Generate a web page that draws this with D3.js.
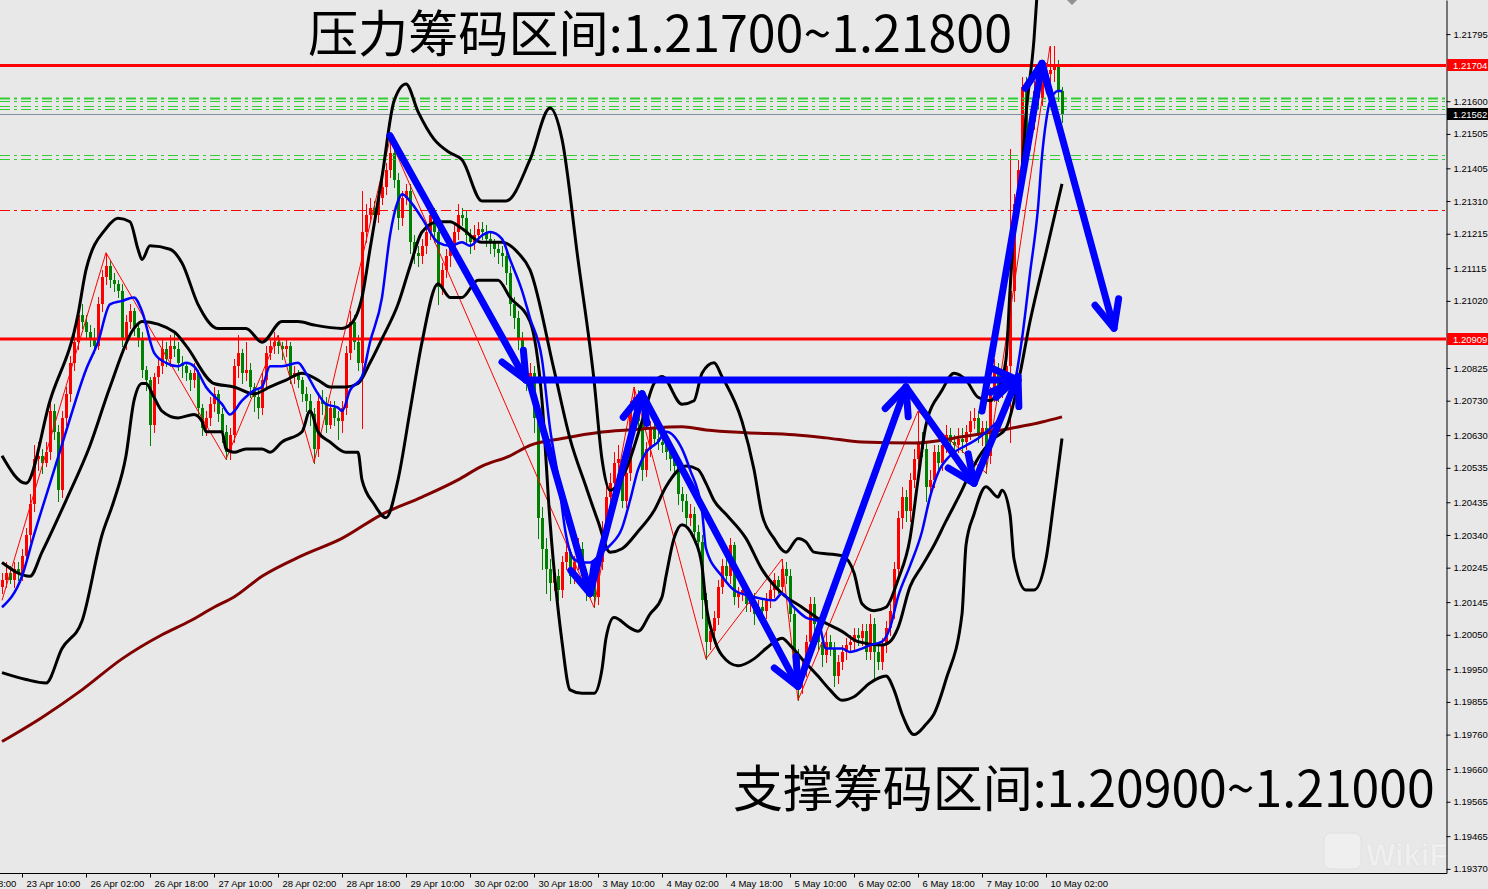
<!DOCTYPE html>
<html>
<head>
<meta charset="utf-8">
<script src="https://cdn.jsdelivr.net/npm/d3@7"></script>
<style>
body { margin: 0; background: #e8e8e8; }
svg { display: block; }
</style>
</head>
<body>
<svg id="chart" width="1488" height="889"></svg>
<script>
// EURUSD H1 candles, open of each bar = previous close
var firstOpen = 1.2019;
var closes = [
1.2021,1.2023,1.2021,1.2024,1.2023,1.2028,1.2034,1.2043,1.2056,1.2057,1.2055,1.2058,1.2070,1.2064,1.2047,1.2068,
1.2075,1.2084,1.2090,1.2098,1.2096,1.2093,1.2091,1.2089,1.2101,1.2109,1.2112,1.2108,1.2107,1.2105,1.2091,1.2096,
1.2099,1.2094,1.2091,1.2082,1.2079,1.2066,1.2080,1.2083,1.2088,1.2085,1.2089,1.2088,1.2084,1.2083,1.2081,1.2079,
1.2081,1.2071,1.2065,1.2068,1.2072,1.2075,1.2069,1.2064,1.2058,1.2063,1.2083,1.2087,1.2081,1.2082,1.2077,1.2074,
1.2071,1.2079,1.2087,1.2089,1.2090,1.2089,1.2088,1.2089,1.2080,1.2081,1.2079,1.2075,1.2073,1.2069,1.2059,1.2073,
1.2072,1.2066,1.2071,1.2068,1.2067,1.2071,1.2087,1.2096,1.2090,1.2084,1.2122,1.2127,1.2129,1.2127,1.2132,1.2135,
1.2140,1.2145,1.2137,1.2126,1.2132,1.2134,1.2119,1.2116,1.2115,1.2118,1.2122,1.2127,1.2122,1.2106,1.2111,1.2115,
1.2117,1.2122,1.2127,1.2126,1.2121,1.2119,1.2121,1.2123,1.2122,1.2120,1.2119,1.2117,1.2116,1.2115,1.2110,1.2101,
1.2097,1.2091,1.2084,1.2079,1.2081,1.2068,1.2039,1.2030,1.2024,1.2020,1.2022,1.2018,1.2026,1.2029,1.2022,1.2026,
1.2030,1.2022,1.2018,1.2021,1.2016,1.2026,1.2035,1.2045,1.2049,1.2055,1.2056,1.2044,1.2052,1.2071,1.2074,1.2067,
1.2053,1.2059,1.2065,1.2062,1.2061,1.2060,1.2058,1.2056,1.2054,1.2046,1.2044,1.2039,1.2040,1.2035,1.2032,1.2015,
1.2003,1.2006,1.2010,1.2019,1.2025,1.2022,1.2031,1.2016,1.2017,1.2018,1.2014,1.2015,1.2011,1.2013,1.2012,1.2015,
1.2018,1.2021,1.2019,1.2024,1.2022,1.2011,1.1999,1.1992,1.1995,1.2003,1.2014,1.2008,1.2003,1.1999,1.2003,1.2001,
1.1993,1.1997,1.2000,1.2002,1.2003,1.2005,1.2004,1.2006,1.2000,1.2008,1.2000,1.1997,1.2002,1.2007,1.2012,1.2024,
1.2039,1.2045,1.2041,1.2050,1.2056,1.2061,1.2059,1.2048,1.2050,1.2058,1.2055,1.2060,1.2063,1.2061,1.2060,1.2062,
1.2061,1.2064,1.2067,1.2068,1.2063,1.2065,1.2057,1.2075,1.2082,1.2076,1.2079,1.2083,1.2105,1.2130,1.2140,1.2164,
1.2148,1.2154,1.2163,1.2161,1.2167,1.2168,1.2169,1.2170,1.2163,1.21562
];
var highs = [
1.2023,1.2026,1.2025,1.2026,1.2026,1.2030,1.2036,1.2046,1.2060,1.2061,1.2059,1.2061,1.2073,1.2072,1.2066,1.2070,
1.2077,1.2086,1.2093,1.2100,1.2101,1.2098,1.2095,1.2094,1.2103,1.2111,1.2116,1.2114,1.2110,1.2108,1.2107,1.2098,
1.2101,1.2100,1.2096,1.2093,1.2083,1.2080,1.2081,1.2085,1.2091,1.2090,1.2092,1.2093,1.2090,1.2086,1.2084,1.2082,
1.2084,1.2082,1.2072,1.2070,1.2074,1.2077,1.2076,1.2071,1.2066,1.2065,1.2085,1.2092,1.2088,1.2090,1.2084,1.2078,
1.2076,1.2081,1.2089,1.2091,1.2093,1.2092,1.2090,1.2091,1.2090,1.2083,1.2082,1.2080,1.2077,1.2075,1.2071,1.2075,
1.2076,1.2074,1.2073,1.2073,1.2070,1.2073,1.2089,1.2099,1.2098,1.2092,1.2134,1.2130,1.2132,1.2131,1.2134,1.2138,
1.2142,1.2149,1.2147,1.2139,1.2134,1.2136,1.2136,1.2121,1.2118,1.2120,1.2124,1.2130,1.2129,1.2124,1.2113,1.2117,
1.2120,1.2124,1.2130,1.2129,1.2128,1.2123,1.2124,1.2125,1.2125,1.2124,1.2122,1.2120,1.2119,1.2118,1.2117,1.2112,
1.2103,1.2099,1.2093,1.2086,1.2084,1.2083,1.2070,1.2042,1.2033,1.2027,1.2024,1.2024,1.2028,1.2032,1.2030,1.2028,
1.2033,1.2032,1.2024,1.2023,1.2023,1.2028,1.2038,1.2048,1.2052,1.2058,1.2060,1.2057,1.2055,1.2073,1.2077,1.2076,
1.2069,1.2061,1.2067,1.2067,1.2064,1.2063,1.2062,1.2060,1.2058,1.2056,1.2048,1.2046,1.2043,1.2042,1.2037,1.2034,
1.2017,1.2008,1.2012,1.2021,1.2027,1.2027,1.2033,1.2032,1.2019,1.2021,1.2020,1.2017,1.2017,1.2015,1.2015,1.2017,
1.2020,1.2023,1.2022,1.2027,1.2026,1.2024,1.2013,1.2001,1.1997,1.2005,1.2016,1.2016,1.2010,1.2005,1.2006,1.2005,
1.2003,1.1999,1.2002,1.2004,1.2005,1.2007,1.2007,1.2008,1.2008,1.2011,1.2010,1.2002,1.2004,1.2009,1.2014,1.2026,
1.2041,1.2048,1.2047,1.2052,1.2059,1.2070,1.2064,1.2061,1.2053,1.2060,1.2060,1.2062,1.2066,1.2065,1.2063,1.2065,
1.2065,1.2066,1.2070,1.2071,1.2070,1.2067,1.2067,1.2077,1.2085,1.2084,1.2081,1.2086,1.2146,1.2133,1.2143,1.2167,
1.2167,1.2157,1.2166,1.2165,1.2170,1.2171,1.2176,1.2176,1.2172,1.2164
];
var lows = [
1.2017,1.2019,1.2020,1.2019,1.2021,1.2021,1.2026,1.2032,1.2041,1.2053,1.2052,1.2054,1.2056,1.2062,1.2044,1.2045,
1.2066,1.2073,1.2082,1.2088,1.2094,1.2091,1.2089,1.2087,1.2088,1.2099,1.2107,1.2106,1.2105,1.2103,1.2089,1.2088,
1.2094,1.2092,1.2089,1.2080,1.2076,1.2060,1.2064,1.2078,1.2081,1.2083,1.2083,1.2086,1.2082,1.2080,1.2079,1.2076,
1.2077,1.2069,1.2063,1.2063,1.2066,1.2070,1.2067,1.2061,1.2056,1.2056,1.2061,1.2080,1.2078,1.2079,1.2074,1.2070,
1.2068,1.2069,1.2077,1.2085,1.2087,1.2087,1.2085,1.2086,1.2078,1.2078,1.2077,1.2073,1.2070,1.2066,1.2055,1.2057,
1.2069,1.2064,1.2065,1.2066,1.2062,1.2064,1.2069,1.2085,1.2088,1.2082,1.2065,1.2119,1.2125,1.2125,1.2125,1.2130,
1.2133,1.2138,1.2135,1.2123,1.2124,1.2130,1.2116,1.2113,1.2112,1.2113,1.2116,1.2120,1.2119,1.2101,1.2104,1.2109,
1.2112,1.2115,1.2120,1.2124,1.2119,1.2116,1.2117,1.2119,1.2120,1.2118,1.2116,1.2115,1.2113,1.2112,1.2107,1.2098,
1.2094,1.2088,1.2081,1.2076,1.2077,1.2064,1.2033,1.2024,1.2017,1.2015,1.2018,1.2015,1.2016,1.2024,1.2020,1.2020,
1.2024,1.2020,1.2015,1.2016,1.2013,1.2014,1.2024,1.2033,1.2043,1.2047,1.2053,1.2042,1.2042,1.2050,1.2069,1.2064,
1.2050,1.2051,1.2057,1.2060,1.2059,1.2058,1.2056,1.2053,1.2052,1.2043,1.2041,1.2037,1.2037,1.2032,1.2029,1.2010,
1.1998,1.2001,1.2004,1.2008,1.2017,1.2020,1.2020,1.2014,1.2013,1.2015,1.2012,1.2012,1.2008,1.2010,1.2009,1.2010,
1.2013,1.2016,1.2017,1.2017,1.2020,1.2009,1.1996,1.1986,1.1988,1.1993,1.2001,1.2006,1.2001,1.1996,1.1997,1.1999,
1.1990,1.1991,1.1995,1.1998,1.2000,1.2001,1.2002,1.2002,1.1998,1.1998,1.1992,1.1995,1.1995,1.2000,1.2005,1.2010,
1.2022,1.2036,1.2038,1.2038,1.2048,1.2054,1.2057,1.2044,1.2046,1.2048,1.2053,1.2053,1.2058,1.2059,1.2058,1.2058,
1.2058,1.2059,1.2062,1.2065,1.2061,1.2060,1.2052,1.2055,1.2073,1.2073,1.2074,1.2077,1.2061,1.2102,1.2128,1.2138,
1.2145,1.2146,1.2152,1.2158,1.2159,1.2165,1.2166,1.2166,1.2160,1.2154
];

// time axis (bar index -> label)
var timeIdx = [-11, 5, 21, 37, 53, 69, 85, 101, 117, 133, 149, 165, 181, 197, 213, 229, 245, 261];
var timeLabels = ["22 Apr 18:00", "23 Apr 10:00", "26 Apr 02:00", "26 Apr 18:00", "27 Apr 10:00", "28 Apr 02:00",
  "28 Apr 18:00", "29 Apr 10:00", "30 Apr 02:00", "30 Apr 18:00", "3 May 10:00", "4 May 02:00", "4 May 18:00",
  "5 May 10:00", "6 May 02:00", "6 May 18:00", "7 May 10:00", "10 May 02:00"];
var priceTicks = [1.21795, 1.21600, 1.21505, 1.21405, 1.21310, 1.21215, 1.21115, 1.21020, 1.20825, 1.20730,
  1.20630, 1.20535, 1.20435, 1.20340, 1.20245, 1.20145, 1.20050, 1.19950, 1.19855, 1.19760, 1.19660, 1.19565,
  1.19465, 1.19370];

// indicator lines, [bar index, price]
var bbUpper = [[0,1.2057],[6,1.2049],[12,1.2073],[19,1.2098],[21,1.2111],[26,1.2123],[29,1.2126],[32,1.2125],
  [34,1.2117],[35,1.2114],[37,1.2118],[42,1.2117],[45,1.2113],[49,1.2101],[54,1.2094],[61,1.2094],[65,1.2090],
  [70,1.2096],[74,1.2096],[78,1.2095],[85,1.2094],[87,1.2095],[90,1.2103],[92,1.2117],[95,1.2138],[98,1.2160],
  [101,1.2165],[104,1.2157],[108,1.2149],[112,1.2145],[115,1.2143],[120,1.2131],[126,1.2131],[132,1.2143],
  [137,1.2158],[140,1.2149],[144,1.2114],[148,1.2079],[150,1.2056],[152,1.2047],[156,1.2053],[160,1.2067],
  [163,1.2078],[165,1.2080],[170,1.2072],[173,1.2073],[175,1.2081],[178,1.2084],[180,1.2080],[185,1.2067],
  [188,1.2053],[190,1.2040],[193,1.2033],[196,1.2029],[199,1.2033],[201,1.2032],[203,1.2029],[210,1.2028],
  [213,1.2023],[215,1.2014],[218,1.2012],[221,1.2013],[224,1.2021],[227,1.2033],[229,1.2050],[231,1.2066],
  [235,1.2076],[238,1.2081],[241,1.2079],[244,1.2074],[247,1.2073],[249,1.2076],[251,1.2085],[252,1.2105],
  [253,1.2123],[255,1.2140],[256,1.2156],[258,1.2178],[259,1.2195]];
var bbMiddle = [[0,1.2026],[7,1.2022],[10,1.2029],[16,1.2044],[22,1.2060],[27,1.2077],[33,1.2094],[35,1.2096],
  [43,1.2093],[46,1.2089],[53,1.2078],[58,1.2077],[63,1.2075],[67,1.2077],[71,1.2079],[75,1.2081],[79,1.2079],
  [82,1.2077],[86,1.2077],[89,1.2078],[92,1.2084],[95,1.2091],[99,1.2101],[102,1.2112],[105,1.2122],[109,1.2125],
  [112,1.2125],[115,1.2123],[120,1.2119],[125,1.2119],[129,1.2116],[132,1.2111],[138,1.2082],[142,1.2062],
  [146,1.2048],[149,1.2038],[152,1.2029],[155,1.2030],[159,1.2035],[163,1.2041],[166,1.2048],[171,1.2054],
  [174,1.2053],[176,1.2049],[178,1.2044],[181,1.2040],[186,1.2033],[190,1.2024],[195,1.2017],[200,1.2013],
  [205,1.2009],[210,1.2006],[214,1.2003],[220,1.2002],[222,1.2003],[224,1.2007],[227,1.2019],[230,1.2025],
  [233,1.2031],[236,1.2038],[240,1.2047],[242,1.2052],[245,1.2058],[248,1.2062],[251,1.2065],[254,1.2078],
  [257,1.2096],[261,1.2116],[265,1.2136]];
var bbLower = [[0,1.1994],[6,1.1992],[11,1.1991],[15,1.2001],[20,1.2009],[25,1.2034],[28,1.2044],[31,1.2057],
  [33,1.2073],[35,1.2078],[36,1.2078],[38,1.2074],[40,1.2070],[44,1.2068],[48,1.2069],[50,1.2067],[51,1.2064],
  [55,1.2064],[56,1.2059],[58,1.2058],[61,1.2059],[65,1.2059],[67,1.2058],[70,1.2061],[75,1.2064],[77,1.2070],
  [79,1.2064],[82,1.2061],[86,1.2058],[89,1.2058],[90,1.2050],[93,1.2043],[96,1.2039],[99,1.2050],[102,1.2070],
  [105,1.2090],[109,1.2107],[112,1.2103],[115,1.2103],[119,1.2108],[124,1.2108],[127,1.2103],[132,1.2096],
  [135,1.2073],[137,1.2038],[140,1.2003],[142,1.1989],[145,1.1988],[148,1.1988],[150,1.1995],[151,1.2004],
  [153,1.2010],[157,1.2007],[159,1.2006],[162,1.2011],[165,1.2016],[166,1.2022],[168,1.2033],[170,1.2037],
  [173,1.2033],[175,1.2025],[176,1.2014],[178,1.2004],[180,1.1999],[184,1.1996],[188,1.1998],[191,1.2001],
  [195,1.2004],[197,1.2002],[200,1.1998],[204,1.1993],[207,1.1989],[210,1.1986],[213,1.1987],[217,1.1991],
  [221,1.1993],[223,1.1989],[225,1.1982],[228,1.1976],[231,1.1979],[233,1.1982],[236,1.1992],[240,1.2011],
  [241,1.2031],[243,1.2040],[246,1.2048],[249,1.2045],[250,1.2047],[252,1.2040],[253,1.2027],[256,1.2018],
  [258,1.2018],[261,1.2027],[263,1.2044],[265,1.2062]];
var maFast = [[0,1.2013],[5,1.2022],[8,1.2034],[12,1.2049],[16,1.2064],[21,1.2082],[24,1.2090],[27,1.2101],
  [30,1.2102],[33,1.2103],[35,1.2099],[38,1.2087],[41,1.2084],[44,1.2083],[46,1.2084],[48,1.2083],[51,1.2077],
  [55,1.2072],[57,1.2069],[60,1.2073],[63,1.2076],[65,1.2077],[67,1.2083],[70,1.2083],[74,1.2084],[76,1.2081],
  [79,1.2075],[81,1.2072],[84,1.2071],[85,1.2070],[87,1.2076],[90,1.2080],[92,1.2090],[95,1.2103],[97,1.2121],
  [99,1.2131],[100,1.2133],[102,1.2131],[105,1.2126],[109,1.2119],[112,1.2118],[115,1.2119],[117,1.2118],
  [120,1.2121],[122,1.2122],[125,1.2120],[127,1.2114],[130,1.2105],[132,1.2097],[135,1.2085],[137,1.2065],
  [139,1.2051],[141,1.2034],[143,1.2027],[145,1.2026],[147,1.2026],[150,1.2029],[152,1.2031],[155,1.2036],
  [157,1.2044],[159,1.2053],[161,1.2058],[164,1.2061],[166,1.2064],[170,1.2059],[172,1.2053],[175,1.2041],
  [176,1.2030],[180,1.2022],[183,1.2018],[188,1.2016],[193,1.2015],[195,1.2017],[198,1.2013],[201,1.2010],
  [204,1.2009],[206,1.2001],[210,1.2001],[212,1.2000],[215,1.2001],[217,1.2002],[220,1.2003],[222,1.2007],
  [224,1.2016],[227,1.2025],[230,1.2035],[232,1.2045],[234,1.2052],[237,1.2057],[241,1.2060],[244,1.2062],
  [248,1.2066],[251,1.2070],[253,1.2077],[255,1.2091],[257,1.2110],[259,1.2129],[260,1.2144],[261,1.2154],
  [262,1.2160],[264,1.2163],[265,1.2163]];
var maSlow = [[0,1.1974],[10,1.1981],[20,1.1989],[30,1.1998],[40,1.2005],[47,1.2009],[53,1.2013],[58,1.2016],
  [65,1.2022],[75,1.2028],[85,1.2033],[95,1.2040],[105,1.2045],[114,1.2050],[120,1.2054],[127,1.2057],
  [132,1.2060],[140,1.2062],[150,1.20639],[160,1.20648],[170,1.20654],[176,1.20645],[186,1.20637],
  [198,1.20631],[206,1.20622],[215,1.20610],[228,1.20607],[240,1.20625],[250,1.20645],[260,1.20668],
  [265,1.20683]];
var zigzag = [[0,1.2015],[26,1.2116],[56,1.2056],[69,1.2092],[78,1.2055],[97,1.2149],[148,1.2013],[158,1.2077],
  [176,1.1998],[195,1.2027],[199,1.1986],[229,1.2070],[246,1.2052],[262,1.2176]];

// horizontal levels
var levelsRed = [1.21704, 1.20909];
var levelsGreen = [1.21609, 1.21601, 1.21586, 1.21577, 1.21444, 1.21432];
var levelsRedDash = [1.21284];
var bidPrice = 1.21562;
var shiftMark = 267.5;

// hand drawn arrows: [start, end] as [bar index, price]
var arrows = [
  [[97, 1.2150], [131, 1.2079]],
  [[131, 1.2079], [254, 1.2079]],
  [[132, 1.2078], [147, 1.2017]],
  [[147, 1.2017], [160, 1.2075]],
  [[160, 1.2075], [199, 1.1990]],
  [[199, 1.1990], [226, 1.2077]],
  [[226, 1.2077], [243, 1.2049]],
  [[243, 1.2049], [254, 1.2080]],
  [[245, 1.2070], [260, 1.2171]],
  [[260, 1.2171], [278, 1.2094]]
];
var titleTop = "压力筹码区间:1.21700~1.21800";
var titleBottom = "支撑筹码区间:1.20900~1.21000";

var plotW = 1446;
var plotH = 873;
var axisFont = "'Liberation Sans', Arial, sans-serif";

var x = d3.scaleLinear().domain([0, 1]).range([2, 6]);
var y = d3.scaleLinear().domain([1.19358, 1.21894]).range([plotH, 0]);

var svg = d3.select("#chart");
svg.append("rect").attr("width", 1488).attr("height", 889).attr("fill", "#e8e8e8");

svg.append("defs").append("clipPath").attr("id", "plotClip")
  .append("rect").attr("x", 0).attr("y", 0).attr("width", plotW).attr("height", plotH);
var plot = svg.append("g").attr("clip-path", "url(#plotClip)");

// candles
var bars = closes.map(function(c, i) {
  return {i: i, o: i ? closes[i - 1] : firstOpen, h: highs[i], l: lows[i], c: c};
});
var colorOf = function(d) { return d.c > d.o ? "#ff0000" : "#008000"; };

plot.selectAll("line.wick")
  .data(bars)
  .enter()
  .append("line")
  .attr("class", "wick")
  .attr("x1", function(d) { return Math.round(x(d.i)) + 0.5; })
  .attr("x2", function(d) { return Math.round(x(d.i)) + 0.5; })
  .attr("y1", function(d) { return Math.round(y(Math.max(d.h, d.o, d.c))); })
  .attr("y2", function(d) { return Math.round(y(Math.min(d.l, d.o, d.c))) + 1; })
  .attr("stroke", colorOf)
  .attr("stroke-width", 1);

plot.selectAll("rect.body")
  .data(bars)
  .enter()
  .append("rect")
  .attr("class", "body")
  .attr("x", function(d) { return Math.round(x(d.i)) - 1; })
  .attr("y", function(d) { return Math.round(y(Math.max(d.o, d.c))); })
  .attr("width", 3)
  .attr("height", function(d) {
    return Math.max(1, Math.round(y(Math.min(d.o, d.c))) - Math.round(y(Math.max(d.o, d.c))));
  })
  .attr("fill", colorOf);

// dotted levels
var dashLevels = levelsGreen.map(function(v, k) { return {v: v, c: "#32cd32", w: k === 0 ? 2 : 1}; })
  .concat(levelsRedDash.map(function(v) { return {v: v, c: "#ff0000", w: 1}; }));
plot.selectAll("line.dash")
  .data(dashLevels)
  .enter()
  .append("line")
  .attr("x1", 0).attr("x2", plotW)
  .attr("y1", function(d) { return Math.round(y(d.v)) + 0.5; })
  .attr("y2", function(d) { return Math.round(y(d.v)) + 0.5; })
  .attr("stroke", function(d) { return d.c; })
  .attr("stroke-width", function(d) { return d.w; })
  .attr("stroke-dasharray", "10,4,3,4");

plot.append("line")
  .attr("x1", 0).attr("x2", plotW)
  .attr("y1", Math.round(y(bidPrice)) + 0.5).attr("y2", Math.round(y(bidPrice)) + 0.5)
  .attr("stroke", "#8090a0").attr("stroke-width", 1);

plot.selectAll("line.level")
  .data(levelsRed)
  .enter()
  .append("line")
  .attr("x1", 0).attr("x2", plotW)
  .attr("y1", function(d) { return y(d); })
  .attr("y2", function(d) { return y(d); })
  .attr("stroke", "#ff0000")
  .attr("stroke-width", 3);

var line = d3.line()
  .x(function(d) { return x(d[0]); })
  .y(function(d) { return y(d[1]); })
  .curve(d3.curveMonotoneX);

plot.append("path")
  .attr("d", d3.line().x(function(d) { return x(d[0]); }).y(function(d) { return y(d[1]); })(zigzag))
  .attr("fill", "none").attr("stroke", "#ff0000").attr("stroke-width", 1);

plot.append("path").attr("d", line(maSlow))
  .attr("fill", "none").attr("stroke", "#800000").attr("stroke-width", 3);

[bbUpper, bbMiddle, bbLower].forEach(function(band) {
  plot.append("path").attr("d", line(band))
    .attr("fill", "none").attr("stroke", "#000").attr("stroke-width", 3);
});

plot.append("path").attr("d", line(maFast))
  .attr("fill", "none").attr("stroke", "#0000ff").attr("stroke-width", 2.5);

// arrows
var arrowHead = function(p0, p1, len, ang) {
  var a = Math.atan2(p1[1] - p0[1], p1[0] - p0[0]);
  return [[p1[0] - len * Math.cos(a - ang), p1[1] - len * Math.sin(a - ang)], p1,
          [p1[0] - len * Math.cos(a + ang), p1[1] - len * Math.sin(a + ang)]];
};
arrows.forEach(function(a) {
  var p0 = [x(a[0][0]), y(a[0][1])];
  var p1 = [x(a[1][0]), y(a[1][1])];
  plot.append("path").attr("d", d3.line()([p0, p1]))
    .attr("fill", "none").attr("stroke", "#0000ff").attr("stroke-width", 7)
    .attr("stroke-linecap", "round");
  plot.append("path").attr("d", d3.line()(arrowHead(p0, p1, 30, 0.42)))
    .attr("fill", "none").attr("stroke", "#0000ff").attr("stroke-width", 7)
    .attr("stroke-linejoin", "round").attr("stroke-linecap", "round");
});

// chart shift marker
var sx = x(shiftMark);
plot.append("path").attr("d", d3.line()([[sx - 5, 0], [sx + 5, 0], [sx, 5]]) + "Z").attr("fill", "#909090");

// price axis
var yAxis = d3.axisRight(y).tickValues(priceTicks).tickFormat(d3.format(".5f")).tickSize(4).tickSizeOuter(0);
var gy = svg.append("g").attr("transform", "translate(" + (plotW + 0.5) + ",0)").call(yAxis);
gy.attr("font-family", axisFont).attr("font-size", 9.5);
gy.selectAll("path, line").attr("stroke", "#000");
gy.selectAll("text").attr("fill", "#000").attr("x", 7);

// time axis
var xAxis = d3.axisBottom(x).tickValues(timeIdx)
  .tickFormat(function(d, k) { return timeLabels[k]; }).tickSize(4).tickSizeOuter(0);
var gx = svg.append("g").attr("transform", "translate(0," + (plotH + 0.5) + ")").call(xAxis);
gx.select(".domain").remove();
gx.attr("font-family", axisFont).attr("font-size", 9.5);
gx.selectAll("line").attr("stroke", "#000");
gx.selectAll("text").attr("text-anchor", "start").attr("x", 4).attr("fill", "#000");
svg.append("line").attr("x1", 0).attr("x2", plotW + 1).attr("y1", plotH + 0.5).attr("y2", plotH + 0.5)
  .attr("stroke", "#000");

// price tags on the axis
var tags = [{v: levelsRed[0], c: "#ff0000"}, {v: levelsRed[1], c: "#ff0000"}, {v: bidPrice, c: "#000"}];
tags.forEach(function(t) {
  var ty = Math.round(y(t.v));
  svg.append("rect").attr("x", plotW + 1).attr("y", ty - 6).attr("width", 42).attr("height", 12).attr("fill", t.c);
  svg.append("text").attr("x", plotW + 7).attr("y", ty + 3.5).text(d3.format(".5f")(t.v))
    .attr("font-family", axisFont).attr("font-size", 9.5).attr("fill", "#fff");
});

// annotations: size the font so the natural width matches the picture
var addTitle = function(txt, tx, ty, w) {
  var t = svg.append("text").attr("x", tx).attr("y", ty).text(txt)
    .attr("font-family", "'Noto Sans CJK SC', sans-serif").attr("font-size", 50).attr("fill", "#000");
  var natural = t.node().getComputedTextLength();
  t.attr("font-size", 50 * w / natural);
};
addTitle(titleTop, 308, 52, 704);
addTitle(titleBottom, 733, 807, 702);

// watermark, cut at the plot edge like the original
var wm = svg.append("g").attr("clip-path", "url(#plotClip)");
wm.append("rect").attr("x", 1324).attr("y", 833).attr("width", 37).attr("height", 36).attr("rx", 7)
  .attr("fill", "#efefef").attr("stroke", "#e0e0e0");
wm.append("text").attr("x", 1366).attr("y", 866).text("WikiFX")
  .attr("font-family", "'Liberation Sans', sans-serif").attr("font-weight", "bold").attr("font-size", 31)
  .attr("fill", "#f0f0f0").attr("stroke", "#e0e0e0").attr("stroke-width", 0.6);
</script>
</body>
</html>
